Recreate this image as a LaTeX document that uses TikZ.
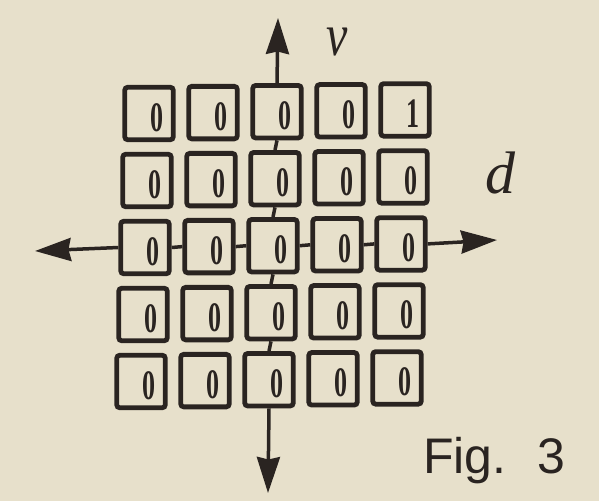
\documentclass[tikz,border=0pt]{standalone}
\usepackage{fontspec}
\usetikzlibrary{arrows.meta}
\newfontfamily\digitfont{Liberation Serif}
\newfontfamily\figfont{Liberation Sans}
\newfontfamily\labfont{Liberation Serif}
\definecolor{paper}{HTML}{E7E0CB}
\definecolor{ink}{HTML}{2A2421}
\begin{document}
\begin{tikzpicture}[x=1pt,y=-1pt,
  cellbox/.style={draw=ink, line width=4.8pt, rounded corners=3pt,
    minimum width=48.5pt, minimum height=52.5pt, inner sep=0pt},
  digit/.style={text=ink, inner sep=0pt,
    font=\digitfont\bfseries\fontsize{42}{42}\selectfont},
  link/.style={draw=ink, line width=3.5pt},
  axis/.style={draw=ink, line width=3.5pt,
    -{Stealth[length=36pt,width=23pt,inset=2.5pt]}},
  lab/.style={text=ink, inner sep=0pt}
]
\fill[paper] (0,0) rectangle (599,501);
\useasboundingbox (0,0) rectangle (599,501);
\foreach \r in {0,...,4}{
  \foreach \c in {0,...,4}{
    \pgfmathsetmacro\xx{149+64*\c-2*\r}
    \pgfmathsetmacro\yy{113.5+67*\r-0.9*\c}
    \def\val{0}
    \ifnum\r=0 \ifnum\c=4 \def\val{1}\fi\fi
    \node[cellbox] (c\r\c) at (\xx,\yy) {};
    \node[digit] (d\r\c) at ([shift={(8,4)}]c\r\c.center) {\scalebox{0.62}[1]{\val}};
  }
}
% links along the centre column
\draw[link] (c02.south) -- (c12.north);
\draw[link] (c12.south) -- (c22.north);
\draw[link] (c22.south) -- (c32.north);
\draw[link] (c32.south) -- (c42.north);
% links along the middle row
\draw[link] (c20.east) -- (c21.west);
\draw[link] (c21.east) -- (c22.west);
\draw[link] (c22.east) -- (c23.west);
\draw[link] (c23.east) -- (c24.west);
% axes
\coordinate (vtop) at (278,18);
\coordinate (vbot) at (268,493);
\coordinate (hleft) at (35,251);
\coordinate (hright) at (497,240);
\draw[axis] (c02.north) -- (vtop);
\draw[axis] (c42.south) -- (vbot);
\draw[axis] (c20.west) -- (hleft);
\draw[axis] (c24.east) -- (hright);
% labels
\node[lab, font=\labfont\itshape\fontsize{60}{60}\selectfont] (vlab) at (337,42) {\scalebox{0.8}[1]{v}};
\node[lab, font=\labfont\itshape\fontsize{60}{60}\selectfont] (dlab) at (500,172.5) {d};
\node[lab, anchor=base west, font=\figfont\fontsize{50}{50}\selectfont] (fig) at (423,473) {Fig.\hspace{31pt}3};
\end{tikzpicture}
\end{document}
